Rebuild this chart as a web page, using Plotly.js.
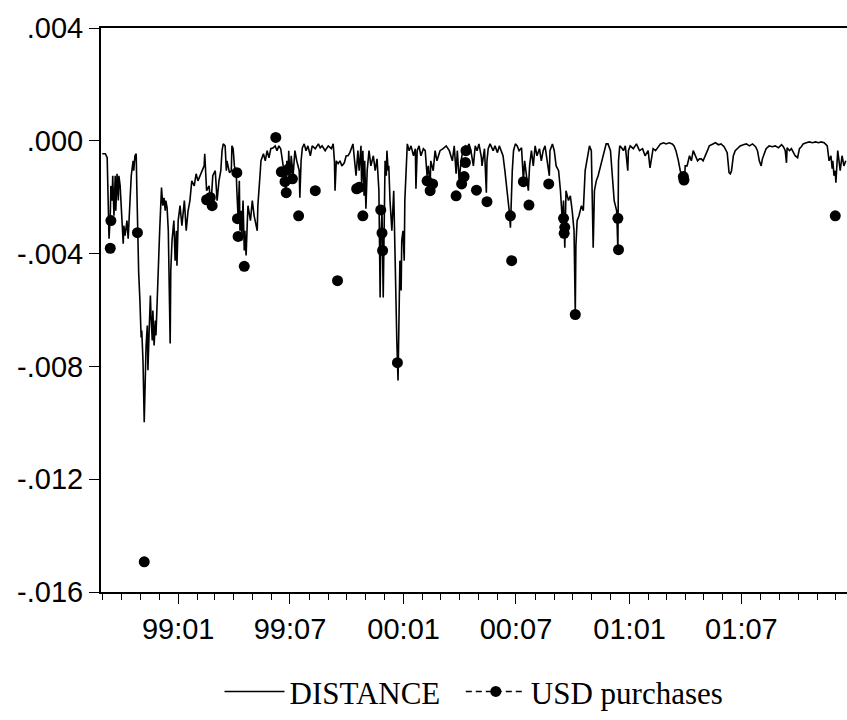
<!DOCTYPE html>
<html>
<head>
<meta charset="utf-8">
<script src="https://cdn.plot.ly/plotly-3.0.1.min.js"></script>
<style>html,body{margin:0;padding:0;background:#fff;}#chart{width:847px;height:720px;}</style>
</head>
<body>
<div id="chart"></div>
<script>
const distanceDates = [
'1998-08-31','1998-09-05','1998-09-08','1998-09-09','1998-09-11','1998-09-13','1998-09-14','1998-09-16','1998-09-17','1998-09-19',
'1998-09-21','1998-09-22','1998-09-24','1998-09-26','1998-09-27','1998-09-29','1998-10-01','1998-10-04','1998-10-05','1998-10-07',
'1998-10-10','1998-10-12','1998-10-15','1998-10-17','1998-10-20','1998-10-21','1998-10-23','1998-10-25','1998-10-26','1998-10-27',
'1998-10-29','1998-10-31','1998-11-02','1998-11-03','1998-11-05','1998-11-07','1998-11-08','1998-11-10','1998-11-12','1998-11-13',
'1998-11-15','1998-11-17','1998-11-18','1998-11-20','1998-11-21','1998-11-23','1998-11-25','1998-11-26','1998-11-28','1998-11-29',
'1998-12-01','1998-12-02','1998-12-05','1998-12-07','1998-12-09','1998-12-11','1998-12-12','1998-12-14','1998-12-16','1998-12-17',
'1998-12-19','1998-12-20','1998-12-22','1998-12-25','1998-12-27','1998-12-29','1998-12-30','1999-01-01','1999-01-04','1999-01-07',
'1999-01-11','1999-01-14','1999-01-17','1999-01-20','1999-01-23','1999-01-27','1999-01-30','1999-02-02','1999-02-05','1999-02-08',
'1999-02-12','1999-02-13','1999-02-15','1999-02-16','1999-02-20','1999-02-23','1999-02-26','1999-03-02','1999-03-05','1999-03-08',
'1999-03-11','1999-03-13','1999-03-15','1999-03-18','1999-03-20','1999-03-21','1999-03-25','1999-03-28','1999-03-29','1999-03-31',
'1999-04-02','1999-04-05','1999-04-06','1999-04-08','1999-04-10','1999-04-11','1999-04-13','1999-04-14','1999-04-16','1999-04-18',
'1999-04-19','1999-04-21','1999-04-23','1999-04-24','1999-04-28','1999-05-01','1999-05-04','1999-05-07','1999-05-09','1999-05-10',
'1999-05-12','1999-05-14','1999-05-15','1999-05-19','1999-05-22','1999-05-25','1999-05-28','1999-05-31','1999-06-04','1999-06-07',
'1999-06-10','1999-06-13','1999-06-16','1999-06-20','1999-06-21','1999-06-23','1999-06-24','1999-06-26','1999-06-28','1999-06-29',
'1999-07-01','1999-07-03','1999-07-06','1999-07-09','1999-07-12','1999-07-16','1999-07-17','1999-07-19','1999-07-21','1999-07-24',
'1999-07-27','1999-07-30','1999-08-03','1999-08-06','1999-08-11','1999-08-16','1999-08-19','1999-08-22','1999-08-27','1999-09-01',
'1999-09-06','1999-09-09','1999-09-11','1999-09-12','1999-09-14','1999-09-17','1999-09-20','1999-09-23','1999-09-27','1999-09-30',
'1999-10-03','1999-10-06','1999-10-11','1999-10-14','1999-10-16','1999-10-19','1999-10-21','1999-10-24','1999-10-25','1999-10-27',
'1999-10-29','1999-10-30','1999-11-01','1999-11-03','1999-11-06','1999-11-09','1999-11-13','1999-11-16','1999-11-19','1999-11-22',
'1999-11-24','1999-11-25','1999-11-27','1999-11-29','1999-12-01','1999-12-02','1999-12-04','1999-12-05','1999-12-07','1999-12-08',
'1999-12-10','1999-12-13','1999-12-16','1999-12-18','1999-12-20','1999-12-21','1999-12-23','1999-12-24','1999-12-26','1999-12-28',
'1999-12-29','1999-12-31','2000-01-02','2000-01-03','2000-01-05','2000-01-07','2000-01-10','2000-01-13','2000-01-17','2000-01-20',
'2000-01-21','2000-01-23','2000-01-26','2000-01-29','2000-02-02','2000-02-05','2000-02-08','2000-02-10','2000-02-13','2000-02-14',
'2000-02-18','2000-02-21','2000-02-24','2000-02-29','2000-03-05','2000-03-10','2000-03-15','2000-03-20','2000-03-23','2000-03-26',
'2000-03-28','2000-03-31','2000-04-03','2000-04-06','2000-04-10','2000-04-13','2000-04-16','2000-04-19','2000-04-23','2000-04-26',
'2000-04-29','2000-05-02','2000-05-06','2000-05-07','2000-05-11','2000-05-14','2000-05-15','2000-05-17','2000-05-20','2000-05-25',
'2000-05-28','2000-06-01','2000-06-04','2000-06-07','2000-06-10','2000-06-13','2000-06-17','2000-06-20','2000-06-22','2000-06-23',
'2000-06-25','2000-06-27','2000-06-30','2000-07-03','2000-07-06','2000-07-10','2000-07-11','2000-07-13','2000-07-15','2000-07-18',
'2000-07-21','2000-07-23','2000-07-26','2000-07-29','2000-08-01','2000-08-04','2000-08-08','2000-08-11','2000-08-14','2000-08-17',
'2000-08-21','2000-08-24','2000-08-25','2000-08-29','2000-09-01','2000-09-04','2000-09-08','2000-09-11','2000-09-14','2000-09-16',
'2000-09-18','2000-09-19','2000-09-20','2000-09-24','2000-09-27','2000-09-30','2000-10-03','2000-10-05','2000-10-06','2000-10-08',
'2000-10-11','2000-10-15','2000-10-18','2000-10-21','2000-10-24','2000-10-28','2000-10-31','2000-11-03','2000-11-05','2000-11-08',
'2000-11-11','2000-11-15','2000-11-18','2000-11-21','2000-11-24','2000-11-27','2000-12-01','2000-12-04','2000-12-07','2000-12-11',
'2000-12-13','2000-12-14','2000-12-16','2000-12-19','2000-12-22','2000-12-25','2000-12-29','2000-12-30','2001-01-02','2001-01-07',
'2001-01-12','2001-01-17','2001-01-22','2001-01-26','2001-01-31','2001-02-03','2001-02-05','2001-02-08','2001-02-12','2001-02-15',
'2001-02-20','2001-02-25','2001-03-01','2001-03-06','2001-03-11','2001-03-14','2001-03-17','2001-03-21','2001-03-24','2001-03-27',
'2001-03-31','2001-04-01','2001-04-04','2001-04-08','2001-04-11','2001-04-14','2001-04-17','2001-04-21','2001-04-24','2001-04-27',
'2001-04-30','2001-05-04','2001-05-07','2001-05-10','2001-05-15','2001-05-20','2001-05-25','2001-05-29','2001-06-03','2001-06-08',
'2001-06-11','2001-06-13','2001-06-15','2001-06-18','2001-06-21','2001-06-25','2001-06-29','2001-07-04','2001-07-09','2001-07-14',
'2001-07-19','2001-07-24','2001-07-27','2001-07-30','2001-08-02','2001-08-04','2001-08-07','2001-08-10','2001-08-15','2001-08-20',
'2001-08-25','2001-08-30','2001-09-04','2001-09-07','2001-09-10','2001-09-12','2001-09-13','2001-09-17','2001-09-20','2001-09-23',
'2001-09-26','2001-09-30','2001-10-03','2001-10-06','2001-10-09','2001-10-14','2001-10-19','2001-10-24','2001-10-29','2001-11-03',
'2001-11-07','2001-11-12','2001-11-17','2001-11-20','2001-11-23','2001-11-25','2001-11-26','2001-11-28','2001-11-30','2001-12-01',
'2001-12-03','2001-12-04','2001-12-08','2001-12-11','2001-12-14','2001-12-17'
];
const distanceValues = [
-0.00046,-0.00046,-0.0006,-0.00212,-0.00347,-0.00266,-0.0016,-0.00212,-0.00124,-0.00266,
-0.00124,-0.00248,-0.00117,-0.00212,-0.00124,-0.0016,-0.00266,-0.00365,-0.00301,-0.00336,
-0.00283,-0.00347,-0.00212,-0.00124,-0.00071,-0.00106,-0.00053,-0.00046,-0.00166,-0.00326,
-0.00467,-0.00566,-0.00697,-0.00673,-0.00779,-0.00998,-0.0085,-0.00726,-0.00655,-0.00814,
-0.00673,-0.00549,-0.0062,-0.00708,-0.00602,-0.00726,-0.00637,-0.0069,-0.00566,-0.00496,
-0.00389,-0.00319,-0.00166,-0.0023,-0.00202,-0.00248,-0.00212,-0.00237,-0.00319,-0.00496,
-0.00719,-0.0046,-0.00354,-0.00283,-0.00425,-0.00319,-0.00443,-0.00283,-0.0023,-0.00301,
-0.00212,-0.00319,-0.00248,-0.00212,-0.00142,-0.0016,-0.00117,-0.00142,-0.00124,-0.00106,
-0.00089,-0.00046,-0.00124,-0.00177,-0.0016,-0.0023,-0.00124,-0.00106,-0.00212,-0.00142,
-0.00106,-0.00035,-0.00011,-0.00018,-0.00106,-0.00071,-0.00113,-0.00106,-0.00018,-0.00028,
-0.00089,-0.00113,-0.00177,-0.00273,-0.00142,-0.00319,-0.00248,-0.00354,-0.00212,-0.00389,
-0.00319,-0.00407,-0.00283,-0.0023,-0.00283,-0.00212,-0.00266,-0.00301,-0.00319,-0.0023,
-0.00142,-0.00106,-0.00071,-0.00046,-0.00071,-0.00035,-0.0006,-0.00028,-0.00025,-0.00018,
-0.00035,-0.00018,-0.00028,-0.00089,-0.0016,-0.00106,-0.00195,-0.00071,-0.00124,-0.00035,
-0.00142,-0.00053,-0.00124,-0.00035,-0.00071,-0.00106,-0.00202,-0.00071,-0.00025,-0.00011,
-0.00035,-0.00018,-0.00053,-0.00018,-0.00028,-0.00011,-0.00025,-0.00018,-0.00035,-0.00018,
-0.00028,-0.00011,-0.00071,-0.00177,-0.00071,-0.00081,-0.00071,-0.00089,-0.00078,-0.00053,
-0.00053,-0.00042,-0.00011,-0.00071,-0.00124,-0.00035,-0.00106,-0.00018,-0.0016,-0.00035,
-0.00195,-0.00071,-0.00241,-0.00106,-0.00035,-0.00089,-0.00053,-0.00106,-0.00064,-0.00177,
-0.00556,-0.00354,-0.00248,-0.00556,-0.00212,-0.00071,-0.00124,-0.00035,-0.00106,-0.00089,
-0.00212,-0.00319,-0.00177,-0.00425,-0.00566,-0.00708,-0.0085,-0.00708,-0.00425,-0.00531,
-0.00354,-0.00319,-0.00425,-0.00212,-0.00071,-0.00011,-0.00035,-0.00018,-0.00053,-0.00028,
-0.0017,-0.00035,-0.00018,-0.00053,-0.00028,-0.00035,-0.00124,-0.00089,-0.0016,-0.00071,
-0.00106,-0.00035,-0.00071,-0.00035,-0.00028,-0.00018,-0.00035,-0.00071,-0.00018,-0.00117,
-0.00035,-0.00142,-0.00071,-0.00035,-0.00018,-0.00025,-0.00011,-0.00035,-0.00089,-0.00018,
-0.00035,-0.00011,-0.0006,-0.00089,-0.00028,-0.00184,-0.00071,-0.00028,-0.00011,-0.00035,
-0.00018,-0.00042,-0.00018,-0.00035,-0.00053,-0.00106,-0.00177,-0.00248,-0.00308,-0.00212,
-0.00106,-0.00035,-0.00011,-0.00018,-0.00035,-0.00025,-0.00089,-0.00142,-0.00071,-0.00124,
-0.00177,-0.00089,-0.00035,-0.00089,-0.00018,-0.00053,-0.00028,-0.00071,-0.00035,-0.00018,
-0.00071,-0.00124,-0.00035,-0.00011,-0.00035,-0.00089,-0.00106,-0.00177,-0.00283,-0.00212,
-0.00379,-0.00248,-0.00177,-0.00212,-0.00195,-0.00248,-0.00319,-0.00612,-0.00372,-0.00283,
-0.00266,-0.0023,-0.00248,-0.00106,-0.00071,-0.00018,-0.00035,-0.00379,-0.00177,-0.00142,
-0.00124,-0.00089,-0.00053,-0.00028,-0.00011,-0.00011,-0.00035,-0.00124,-0.00212,-0.00248,
-0.00386,-0.00071,-0.00018,-0.00025,-0.00035,-0.00018,-0.00106,-0.00035,-0.00018,-0.00028,
-0.00011,-0.00035,-0.00028,-0.00053,-0.00035,-0.00096,-0.00071,-0.00028,-0.00035,-0.00025,
-0.00011,-0.00007,-0.00011,-0.00007,-0.00011,-0.00018,-0.00035,-0.00071,-0.00106,-0.00124,
-0.00135,-0.00089,-0.00089,-0.00053,-0.00071,-0.00035,-0.00053,-0.00071,-0.00064,-0.00064,
-0.00071,-0.00053,-0.00035,-0.00018,-0.00011,-0.00007,-0.00014,-0.00011,-0.00021,-0.00042,
-0.00113,-0.00117,-0.00106,-0.00053,-0.00035,-0.00028,-0.00018,-0.00014,-0.00011,-0.00018,
-0.00011,-0.00021,-0.00035,-0.00071,-0.00089,-0.00064,-0.00046,-0.00028,-0.00018,-0.00021,
-0.00018,-0.00025,-0.00014,-0.00021,-0.00035,-0.00078,-0.00025,-0.00035,-0.00028,-0.00042,
-0.00053,-0.0006,-0.00028,-0.00021,-0.00011,-0.00007,-0.00004,-0.00007,-0.00004,-0.00007,
-0.00004,-0.00007,-0.00018,-0.00071,-0.00053,-0.00099,-0.00071,-0.00124,-0.00106,-0.00149,
-0.00089,-0.00035,-0.00106,-0.00053,-0.00089,-0.00071
];
const usdDates = [
'1998-09-13','1998-09-14','1998-10-27','1998-11-07','1999-02-16','1999-02-22','1999-02-25','1999-04-06','1999-04-07','1999-04-08',
'1999-04-18','1999-06-08','1999-06-17','1999-06-23','1999-06-25','1999-06-29','1999-07-05','1999-07-15','1999-08-11','1999-09-16',
'1999-10-17','1999-10-21','1999-10-27','1999-11-25','1999-11-27','1999-11-28','1999-12-22','2000-02-08','2000-02-13','2000-02-17',
'2000-03-26','2000-04-04','2000-04-08','2000-04-10','2000-04-11','2000-04-28','2000-05-15','2000-06-22','2000-06-24','2000-07-13',
'2000-07-22','2000-08-23','2000-09-16','2000-09-17','2000-09-18','2000-10-05','2000-12-13','2000-12-14','2001-03-29','2001-03-30',
'2001-11-30'
];
const usdValues = [
-0.00381,-0.00283,-0.00326,-0.01493,-0.00209,-0.00201,-0.0023,-0.00113,-0.00276,-0.00339,
-0.00445,0.00012,-0.0011,-0.00145,-0.00184,-0.00099,-0.00135,-0.00266,-0.00177,-0.00496,
-0.0017,-0.00165,-0.00266,-0.00245,-0.00327,-0.00389,-0.00787,-0.00142,-0.00177,-0.00153,
-0.00195,-0.00153,-0.00127,-0.00077,-0.00035,-0.00175,-0.00216,-0.00266,-0.00425,-0.00145,
-0.00228,-0.00153,-0.00275,-0.00328,-0.00307,-0.00616,-0.00275,-0.00386,-0.00127,-0.00139,
-0.00266
];
const yTickVals = [0.004, 0, -0.004, -0.008, -0.012, -0.016];
const yTickText = ['.004', '.000', '-.004', '-.008', '-.012', '-.016'];
const seriesNames = ['DISTANCE', 'USD purchases'];

// USD purchases are isolated observations: separate them with gaps so only the symbols show
const usdX = [], usdY = [];
usdDates.forEach((d, i) => { usdX.push(d); usdY.push(usdValues[i]); usdX.push(null); usdY.push(null); });

const traces = [
  {x: distanceDates, y: distanceValues, type: 'scatter', mode: 'lines', name: seriesNames[0] + '\u00a0\u00a0',
   line: {color: '#000', width: 1.6}},
  {x: usdX, y: usdY, type: 'scatter', mode: 'lines+markers', name: seriesNames[1], connectgaps: false,
   line: {color: '#000', width: 1.4, dash: '6px,4px'}, marker: {color: '#000', size: 11}}
];

const tickFont = {family: 'Arial, Liberation Sans, sans-serif', size: 29, color: '#000'};

const layout = {
  width: 847, height: 720,
  margin: {l: 101, r: 0, t: 28, b: 128},
  paper_bgcolor: '#fff', plot_bgcolor: '#fff',
  showlegend: true,
  legend: {orientation: 'h', x: 0.5, xanchor: 'center', y: -0.177, yanchor: 'middle',
    font: {family: 'Times New Roman, Liberation Serif, serif', size: 31, color: '#000'},
    itemwidth: 60, bgcolor: 'rgba(0,0,0,0)'},
  xaxis: {
    type: 'date', range: ['1998-08-29', '2001-12-19'],
    tick0: '1999-01-01', dtick: 'M6', tickformat: '%y:%m',
    ticks: 'outside', ticklen: 10, tickwidth: 1, tickcolor: '#000',
    minor: {dtick: 'M1', tick0: '1999-01-01', ticks: 'outside', ticklen: 6, tickwidth: 1, tickcolor: '#000'},
    showgrid: false, zeroline: false,
    showline: true, linecolor: '#000', linewidth: 2, mirror: true,
    tickfont: tickFont
  },
  yaxis: {
    range: [-0.016, 0.004], tickvals: yTickVals, ticktext: yTickText,
    ticks: 'outside', ticklen: 10, tickwidth: 1, tickcolor: '#000',
    showgrid: false, zeroline: false,
    showline: true, linecolor: '#000', linewidth: 2,
    tickfont: tickFont
  }
};

Plotly.newPlot('chart', traces, layout, {staticPlot: true, displayModeBar: false});
</script>
</body>
</html>
